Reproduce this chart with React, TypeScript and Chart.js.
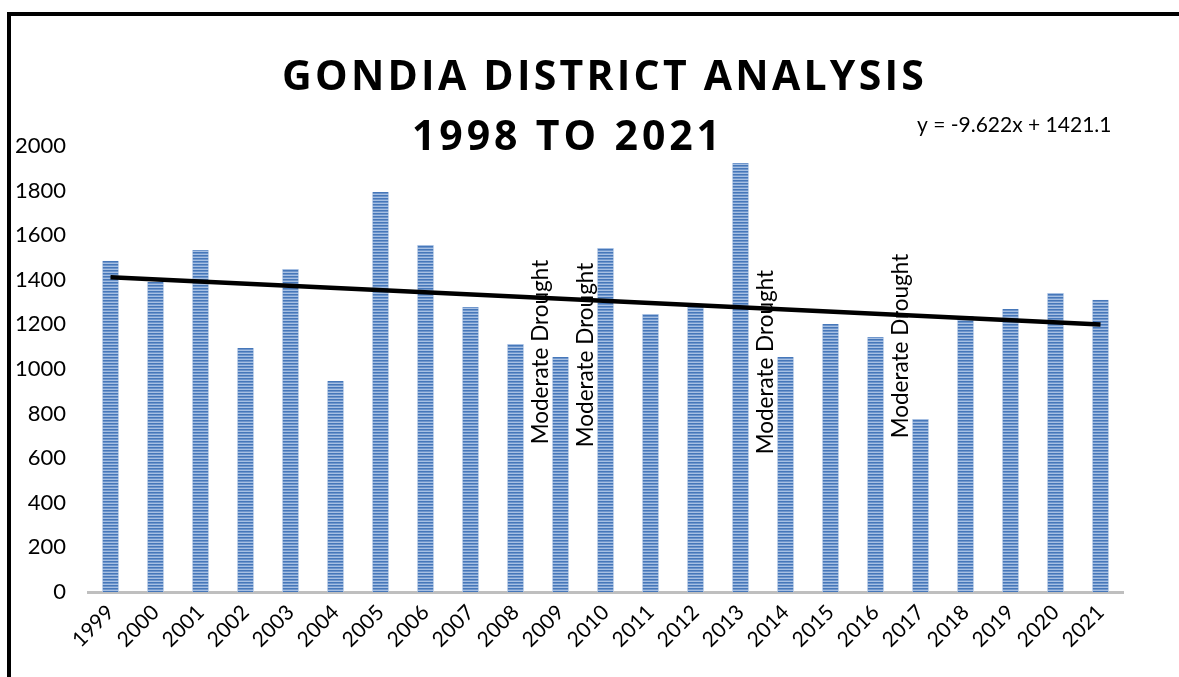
import React, { useEffect, useRef } from "react";
import { Chart, registerables } from "chart.js";

Chart.register(...registerables);

const years = [
  "1999", "2000", "2001", "2002", "2003", "2004", "2005", "2006", "2007", "2008", "2009", "2010",
  "2011", "2012", "2013", "2014", "2015", "2016", "2017", "2018", "2019", "2020", "2021",
];
const rainfall = [
  1485, 1390, 1534, 1094, 1448, 946, 1794, 1556, 1278, 1112, 1054, 1543,
  1247, 1278, 1924, 1054, 1202, 1143, 776, 1238, 1269, 1341, 1310,
];
// linear trend endpoints (y = -9.622x + 1421.1 at the first and last year)
const trendEnds = [1411.5, 1199.8];
const yTickMax = 2000;
const yTickStep = 200;
const titleLines = ["GONDIA DISTRICT ANALYSIS", "1998 TO 2021"];
const equationText = "y = -9.622x + 1421.1";
const droughtYears = ["2009", "2010", "2014", "2017"];
const droughtLabelValues = [1076, 1063, 1031, 1103];
const droughtText = "Moderate Drought";

const W = 1179;
const H = 677;
const FONT = "Lato, 'Open Sans', sans-serif";

function makePattern(): CanvasPattern | string {
  const c = document.createElement("canvas");
  c.width = 4;
  c.height = 3;
  const g = c.getContext("2d");
  if (!g) return "#4f81bd";
  const rows = ["#4677b9", "#6f96cc", "#a7c0e3"];
  rows.forEach((col, i) => {
    g.fillStyle = col;
    g.fillRect(0, i, 4, 1);
  });
  const p = g.createPattern(c, "repeat");
  return p || "#4f81bd";
}

const overlayPlugin = {
  id: "overlay",
  afterDatasetsDraw(chart: any) {
    const ctx = chart.ctx as CanvasRenderingContext2D;
    const xs = chart.scales.x;
    const ys = chart.scales.y;
    ctx.save();
    ctx.fillStyle = "#000";
    ctx.font = `22.5px ${FONT}`;
    ctx.textAlign = "center";
    ctx.textBaseline = "middle";
    droughtYears.forEach((yr, i) => {
      const idx = years.indexOf(yr);
      const x = xs.getPixelForValue(idx) - 19.5;
      const y = ys.getPixelForValue(droughtLabelValues[i]);
      ctx.save();
      ctx.translate(x, y);
      ctx.rotate(-Math.PI / 2);
      ctx.fillText(droughtText, 0, 0);
      ctx.restore();
    });
    ctx.restore();
  },
  afterDraw(chart: any) {
    const ctx = chart.ctx as CanvasRenderingContext2D;
    ctx.save();
    // frame
    ctx.fillStyle = "#000";
    ctx.fillRect(7, 12, 4, H - 12);
    ctx.fillRect(7, 12, W - 7, 4);
    // title
    ctx.font = `bold 41px 'Open Sans', sans-serif`;
    ctx.textAlign = "center";
    ctx.textBaseline = "alphabetic";
    const fit = (text: string, target: number) => {
      (ctx as any).letterSpacing = "0px";
      const w = ctx.measureText(text).width;
      const sp = Math.max(0, (target - w) / text.length);
      (ctx as any).letterSpacing = `${sp}px`;
      return sp;
    };
    let sp = fit(titleLines[0], 645);
    ctx.fillText(titleLines[0], 603 + sp / 2, 90);
    sp = fit(titleLines[1], 312);
    ctx.fillText(titleLines[1], 566 + sp / 2, 150);
    (ctx as any).letterSpacing = "0px";
    // equation
    ctx.font = `21px ${FONT}`;
    ctx.textAlign = "left";
    ctx.fillText(equationText, 917, 132);
    ctx.restore();
  },
};

export default function App() {
  const ref = useRef<HTMLCanvasElement | null>(null);
  useEffect(() => {
    if (!ref.current) return;
    const pattern = makePattern();
    const trendData = years.map((_, i) =>
      i === 0 ? trendEnds[0] : i === years.length - 1 ? trendEnds[1] : null
    );
    const chart = new Chart(ref.current, {
      type: "bar",
      data: {
        labels: years,
        datasets: [
          {
            type: "line",
            data: trendData,
            borderColor: "#000",
            borderWidth: 4.5,
            pointRadius: 0,
            spanGaps: true,
            order: 0,
          } as any,
          {
            type: "bar",
            data: rainfall,
            backgroundColor: pattern as any,
            borderColor: "#c3d4eb",
            borderWidth: { left: 1, right: 1, top: 0, bottom: 0 } as any,
            borderSkipped: false,
            categoryPercentage: 1,
            barPercentage: 0.385,
            order: 1,
          } as any,
        ],
      },
      options: {
        responsive: false,
        animation: false,
        layout: { padding: { top: 146, right: 56, left: 0, bottom: 0 } },
        plugins: {
          legend: { display: false },
          tooltip: { enabled: false },
          title: { display: false },
        },
        scales: {
          x: {
            offset: true,
            grid: { display: false, drawTicks: false },
            border: { display: true, color: "#bfbfbf", width: 3 },
            ticks: {
              color: "#000",
              font: { family: FONT, size: 21 },
              maxRotation: 45,
              minRotation: 45,
              autoSkip: false,
              padding: 8,
            },
            afterFit: (s: any) => {
              s.height = 85;
            },
          },
          y: {
            min: 0,
            max: yTickMax,
            grid: { display: false, drawTicks: false },
            border: { display: false },
            ticks: {
              stepSize: yTickStep,
              color: "#000",
              font: { family: FONT, size: 22 },
              padding: 22,
              callback: (v: any) => String(v),
            },
            afterFit: (s: any) => {
              s.width = 88;
            },
          },
        },
      },
      plugins: [overlayPlugin],
    });
    return () => chart.destroy();
  }, []);
  return (
    <div style={{ position: "fixed", left: 0, top: 0, width: W, height: H, background: "#fff" }}>
      <canvas ref={ref} width={W} height={H} style={{ width: W, height: H, display: "block" }} />
    </div>
  );
}
